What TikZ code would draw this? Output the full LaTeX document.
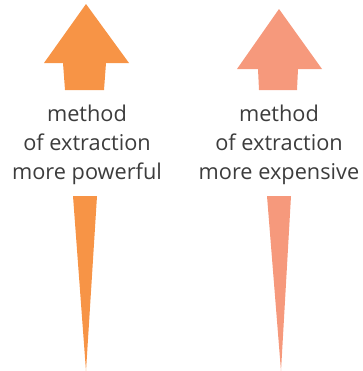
\documentclass[tikz,border=0pt]{standalone}
\usepackage{fontspec}
\setmainfont{Open Sans}
\usepackage{tikz}
\usetikzlibrary{positioning,calc}
\usepackage{xcolor}
\definecolor{power}{RGB}{247,148,70}
\definecolor{cost}{RGB}{246,153,124}
\definecolor{txt}{RGB}{60,60,60}

\begin{document}
\begin{tikzpicture}[
    x=0.75pt, y=-0.75pt,
    label/.style={align=center, font=\fontsize{16.3}{21.5}\selectfont, text=txt, inner sep=0pt}
]
    \useasboundingbox (0,0) rectangle (363,371);
    % upward arrows
    \fill[power] (86,4) -- (129,63) -- (106,63) -- (104,90) -- (65,90) -- (63,63) -- (44,63) -- cycle;
    \fill[cost] (279,9) -- (322,69) -- (298,69) -- (297,90) -- (259,90) -- (258,69) -- (237,69) -- cycle;
    % labels
    \node[label] (lpow) at (87,145) {method\\of extraction\\more powerful};
    \node[label] (lcost) at (279,145) {method\\of extraction\\more expensive};
    % tapering wedges
    \fill[power] (73,196) -- (97,196) -- (86,371) -- cycle;
    \fill[cost] (267,196) -- (291,196) -- (281,371) -- cycle;
\end{tikzpicture}
\end{document}
